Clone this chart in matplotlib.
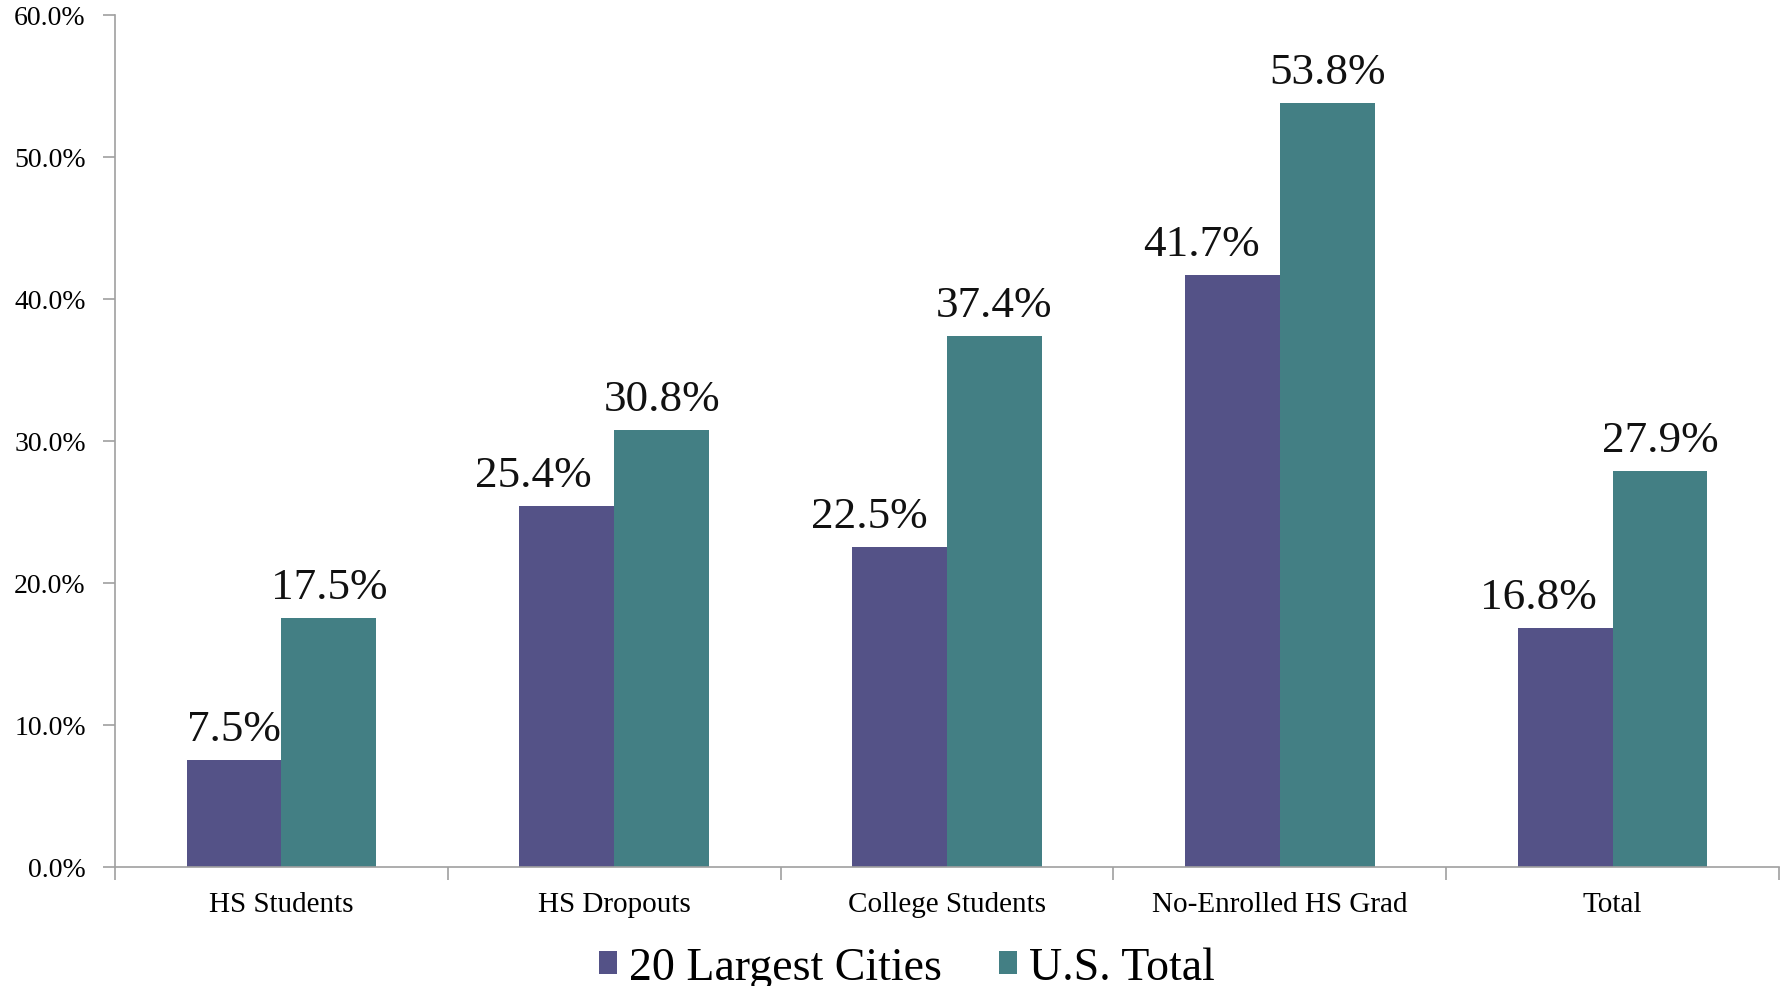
import numpy as np
import matplotlib
matplotlib.use("Agg")
import matplotlib.pyplot as plt
from matplotlib.ticker import FixedLocator, PercentFormatter

# ------------------------------
# Data
# ------------------------------
categories = ["HS Students", "HS Dropouts", "College Students",
              "No-Enrolled HS Grad", "Total"]
cities_pct = [7.5, 25.4, 22.5, 41.7, 16.8]
us_pct = [17.5, 30.8, 37.4, 53.8, 27.9]
series_names = ["20 Largest Cities", "U.S. Total"]

PURPLE = "#545287"
TEAL = "#437F84"
AXIS_GRAY = "#A0A0A0"

# labels of the first series were nudged left in the original (points)
cities_label_dx = [0, -24, -22, -22, -19]
us_label_dx = [0, 0, 0, 0, 0]

plt.rcParams["font.family"] = ["Liberation Serif", "DejaVu Serif"]

fig = plt.figure(figsize=(17.85, 9.87), dpi=100)
ax = fig.add_axes([0.0644, 0.1206, 0.9322, 0.8632])

x = np.arange(len(categories))
w = 0.285
b1 = ax.bar(x - w / 2, cities_pct, w, color=PURPLE, label=series_names[0])
b2 = ax.bar(x + w / 2, us_pct, w, color=TEAL, label=series_names[1])

for bars, vals, dxs in ((b1, cities_pct, cities_label_dx),
                        (b2, us_pct, us_label_dx)):
    for r, v, dx in zip(bars, vals, dxs):
        ax.annotate(f"{v:.1f}%", (r.get_x() + r.get_width() / 2, v),
                    xytext=(dx, 8), textcoords="offset points",
                    ha="center", va="bottom", fontsize=32.5, color="#111111")

ax.set_xlim(-0.5, len(categories) - 0.5)
ax.set_ylim(0, 60)
ax.set_yticks(np.arange(0, 61, 10))
ax.yaxis.set_major_formatter(PercentFormatter(decimals=1))

ax.set_xticks(x)
ax.set_xticklabels(categories)
ax.xaxis.set_minor_locator(FixedLocator(np.arange(-0.5, len(categories), 1.0)))
ax.tick_params(axis="x", which="major", length=0, pad=17, labelsize=21)
ax.tick_params(axis="x", which="minor", length=9, width=1.2, color=AXIS_GRAY)
ax.tick_params(axis="y", length=9, width=1.2, color=AXIS_GRAY, pad=12,
               labelsize=20)

for s in ("top", "right"):
    ax.spines[s].set_visible(False)
for s in ("left", "bottom"):
    ax.spines[s].set_color(AXIS_GRAY)
    ax.spines[s].set_linewidth(1.2)

fig.legend(loc="lower center", bbox_to_anchor=(0.508, -0.045), ncol=2,
           frameon=False, fontsize=33, handlelength=0.4, handleheight=0.4,
           handletextpad=0.25, columnspacing=1.25)

fig.savefig("out.png", dpi=100)
